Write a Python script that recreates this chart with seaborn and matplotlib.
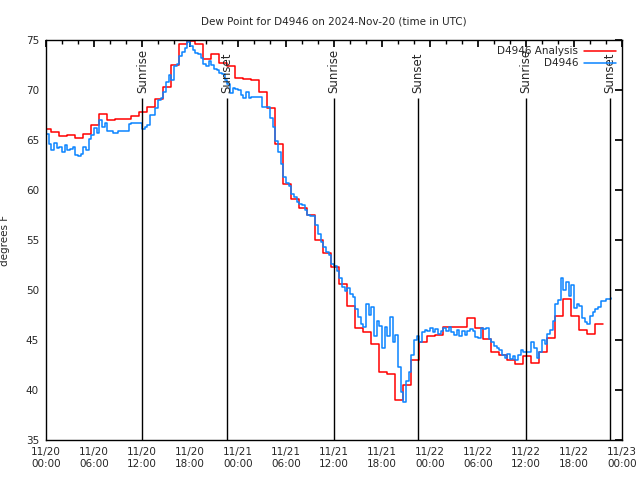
import numpy as np
import pandas as pd
import matplotlib
matplotlib.use("Agg")
import matplotlib.pyplot as plt
import matplotlib.dates as mdates
import seaborn as sns

# dew point chart, D4946, 3 days starting 2024-11-20 00:00 UTC
start = pd.Timestamp("2024-11-20 00:00")

# analysis (red) - hourly steps, first one covers 00:00-00:39
ana_offset = 0.65
ana_vals = [66.1, 65.8, 65.4, 65.5, 65.2, 65.6, 66.5, 67.6, 67.0, 67.1, 67.1, 67.4,
            67.8, 68.3, 69.1, 70.3, 72.5, 74.6, 74.9, 74.6, 73.1, 73.6, 72.7, 72.4,
            71.2, 71.1, 71.0, 69.8, 68.2, 64.6, 60.6, 59.1, 58.2, 57.5, 55.0, 53.7,
            52.3, 50.6, 48.4, 46.2, 45.8, 44.6, 41.8, 41.6, 39.0, 40.5, 43.0, 44.8,
            45.4, 45.5, 46.3, 46.3, 46.3, 47.2, 46.2, 45.1, 43.8, 43.5, 43.0, 42.6,
            43.4, 42.7, 43.8, 45.2, 47.4, 49.1, 47.4, 46.0, 45.6, 46.6, 46.6]

# observations (blue) - every 20 min
obs_step = 1 / 3
obs_vals = [65.6, 64.6, 64.0, 64.7, 64.2, 64.3, 63.8, 64.5, 64.0, 64.1, 64.3, 63.5,
            63.4, 63.6, 64.3, 64.0, 65.1, 65.5, 66.2, 65.7, 67.0, 66.3, 66.7, 65.9,
            65.9, 65.7, 65.7, 65.9, 65.9, 65.9, 65.9, 66.6, 66.7, 66.7, 66.7, 66.7,
            66.1, 66.3, 66.5, 67.5, 67.5, 68.2, 69.0, 69.2, 69.8, 70.8, 71.5, 71.0,
            72.4, 72.6, 73.4, 73.8, 74.2, 74.8, 74.4, 74.0, 73.7, 73.6, 73.2, 72.6,
            72.4, 72.9, 72.5, 72.1, 72.0, 71.7, 71.6, 71.0, 70.6, 69.7, 70.2, 70.1,
            70.0, 69.5, 69.2, 69.8, 69.2, 69.3, 69.3, 69.3, 69.3, 68.3, 68.3, 68.3,
            67.2, 66.3, 64.9, 63.8, 62.6, 61.3, 60.7, 60.4, 59.6, 59.3, 58.8, 58.6,
            58.5, 58.0, 57.5, 57.4, 57.4, 56.5, 55.6, 54.8, 54.3, 53.8, 53.5, 52.6,
            52.4, 51.9, 51.2, 50.3, 49.9, 50.2, 49.6, 49.3, 48.1, 47.3, 46.6, 46.3,
            48.6, 47.5, 48.3, 45.4, 46.9, 46.4, 44.2, 46.3, 45.4, 47.3, 44.8, 45.5,
            42.3, 39.8, 38.8, 40.9, 41.8, 43.5, 45.0, 45.4, 44.8, 45.8, 46.0, 45.9,
            46.2, 45.8, 46.1, 45.6, 45.9, 46.2, 45.9, 46.3, 45.8, 45.5, 46.0, 45.4,
            45.9, 45.5, 45.9, 46.1, 45.9, 45.3, 45.2, 46.2, 46.1, 46.2, 45.1, 44.8,
            44.4, 44.2, 44.0, 43.5, 43.2, 43.6, 43.1, 43.4, 43.0, 43.5, 44.0, 43.8,
            43.8, 43.8, 44.8, 44.2, 43.2, 43.8, 45.0, 44.6, 45.6, 46.0, 46.9, 48.6,
            49.0, 51.2, 50.0, 50.8, 49.4, 50.5, 48.2, 48.6, 48.4, 47.2, 46.8, 46.6,
            47.4, 47.8, 48.1, 48.3, 48.9, 48.9, 49.1, 49.1, 49.2]

# sun events (UTC)
sun_times = ["2024-11-20 12:02", "2024-11-20 22:35", "2024-11-21 12:00",
             "2024-11-21 22:30", "2024-11-22 12:00", "2024-11-22 22:30"]
sun_labels = ["Sunrise", "Sunset", "Sunrise", "Sunset", "Sunrise", "Sunset"]

ana_hours = np.concatenate([[0], ana_offset + np.arange(len(ana_vals) - 1)])
ana = pd.DataFrame({"time": start + pd.to_timedelta(ana_hours, unit="h"),
                    "dewpt": ana_vals})
obs = pd.DataFrame({"time": start + pd.to_timedelta(np.arange(len(obs_vals)) * obs_step, unit="h"),
                    "dewpt": obs_vals})

sns.set_theme(style="white")
plt.rcParams["font.family"] = ["DejaVu Sans"]
plt.rcParams["font.size"] = 7.5

fig = plt.figure(figsize=(6.4, 4.8), dpi=100)
ax = fig.add_axes([46 / 640, 40 / 480, 576 / 640, 400 / 480])

sns.lineplot(data=ana, x="time", y="dewpt", ax=ax, color="#ff0000", lw=1.1,
             drawstyle="steps-post", estimator=None, label="D4946 Analysis")
sns.lineplot(data=obs, x="time", y="dewpt", ax=ax, color="#0a84ff", lw=1.1,
             drawstyle="steps-post", estimator=None, label="D4946")

for t, lab in zip(sun_times, sun_labels):
    t = pd.Timestamp(t)
    ax.vlines(t, 35, 69.2, color="black", lw=1.0)
    ax.text(t, 69.7, lab, rotation=90, ha="center", va="bottom", fontsize=8.5)

ax.set_xlim(start, start + pd.Timedelta(hours=72))
ax.set_ylim(35, 75)
ax.set_yticks(range(35, 76, 5))
ax.xaxis.set_major_locator(mdates.HourLocator(byhour=[0, 6, 12, 18]))
ax.xaxis.set_minor_locator(mdates.HourLocator(interval=2))
ax.xaxis.set_major_formatter(mdates.DateFormatter("%m/%d\n%H:%M"))
ax.tick_params(which="both", direction="in", top=True, right=True, color="black",
               labelsize=7.5, pad=5)
ax.tick_params(which="major", length=5)
ax.tick_params(which="minor", length=3)
for s in ax.spines.values():
    s.set_color("black")
    s.set_linewidth(1.0)

ax.set_xlabel("")
ax.set_ylabel("degrees F", fontsize=7.5)
ax.yaxis.set_label_coords(-36 / 576, 0.5)
ax.set_title("Dew Point for D4946 on 2024-Nov-20 (time in UTC)", fontsize=7.5, pad=11)

ax.legend(loc="upper right", frameon=False, markerfirst=False, fontsize=7.5,
          handlelength=3.0, borderaxespad=0.2, labelspacing=0.2, handletextpad=0.6)

fig.savefig("out.png", dpi=100)
